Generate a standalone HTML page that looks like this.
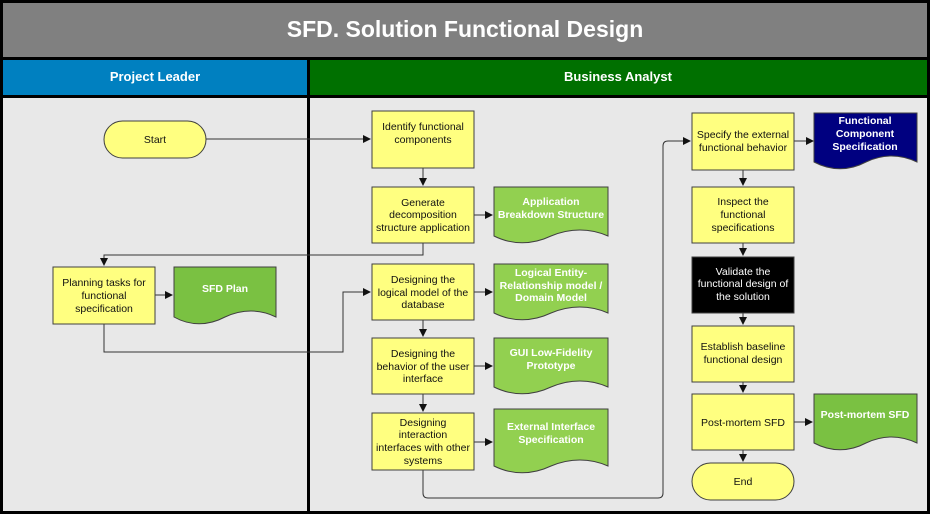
<!DOCTYPE html>
<html><head><meta charset="utf-8"><style>
html,body{margin:0;padding:0;background:#fff}
svg{display:block}
text{font-family:"Liberation Sans",Arial,sans-serif}
.b{fill:#ffff80;stroke:#404040;stroke-width:1}
.t{font-size:10.5px;fill:#111;text-anchor:middle}
.d{font-size:10.5px;fill:#fff;font-weight:bold;text-anchor:middle}
.l{fill:none;stroke:#333;stroke-width:1}
</style></head><body>
<svg width="930" height="514" viewBox="0 0 930 514" xmlns="http://www.w3.org/2000/svg">
<defs>
<marker id="a" markerWidth="8" markerHeight="8" refX="7" refY="4" orient="auto" markerUnits="userSpaceOnUse"><path d="M0,0 L8,4 L0,8 Z" fill="#111"/></marker>
</defs>
<rect x="0" y="0" width="930" height="514" fill="#000"/>
<rect x="3" y="3" width="924" height="54" fill="#808080"/>
<text x="465" y="37" font-size="23" font-weight="bold" fill="#fff" text-anchor="middle">SFD. Solution Functional Design</text>
<rect x="3" y="60" width="304" height="35" fill="#0080c0"/>
<rect x="310" y="60" width="617" height="35" fill="#007000"/>
<text x="155" y="81" font-size="13" font-weight="bold" fill="#fff" text-anchor="middle">Project Leader</text>
<text x="618" y="81" font-size="13" font-weight="bold" fill="#fff" text-anchor="middle">Business Analyst</text>
<rect x="3" y="98" width="304" height="413" fill="#e8e8e8"/>
<rect x="310" y="98" width="617" height="413" fill="#e8e8e8"/>

<path class="l" d="M206,139 H370" marker-end="url(#a)"/>
<path class="l" d="M423,168 V185" marker-end="url(#a)"/>
<path class="l" d="M423,243 V255 H104 V265" marker-end="url(#a)"/>
<path class="l" d="M155,295 H172" marker-end="url(#a)"/>
<path class="l" d="M104,324 V352 H343 V292 H370" marker-end="url(#a)"/>
<path class="l" d="M474,215 H492" marker-end="url(#a)"/>
<path class="l" d="M474,292 H492" marker-end="url(#a)"/>
<path class="l" d="M423,320 V336" marker-end="url(#a)"/>
<path class="l" d="M474,366 H492" marker-end="url(#a)"/>
<path class="l" d="M423,394 V411" marker-end="url(#a)"/>
<path class="l" d="M474,442 H492" marker-end="url(#a)"/>
<path class="l" d="M423,470 V493 Q423,498 428,498 H658 Q663,498 663,493 V146 Q663,141 668,141 H690" marker-end="url(#a)"/>
<path class="l" d="M794,141 H813" marker-end="url(#a)"/>
<path class="l" d="M743,170 V185" marker-end="url(#a)"/>
<path class="l" d="M743,243 V255" marker-end="url(#a)"/>
<path class="l" d="M743,313 V324" marker-end="url(#a)"/>
<path class="l" d="M743,382 V392" marker-end="url(#a)"/>
<path class="l" d="M794,422 H812" marker-end="url(#a)"/>
<path class="l" d="M743,450 V461" marker-end="url(#a)"/>

<rect class="b" x="104" y="121" width="102" height="37" rx="18.5"/>
<text class="t" x="155" y="143">Start</text>
<rect class="b" x="692" y="463" width="102" height="37" rx="18.5"/>
<text class="t" x="743" y="485">End</text>

<rect class="b" x="372" y="111" width="102" height="57"/>
<text class="t" x="423" y="130">Identify functional</text><text class="t" x="423" y="143">components</text>
<rect class="b" x="372" y="187" width="102" height="56"/>
<text class="t" x="423" y="206">Generate</text><text class="t" x="423" y="218">decomposition</text><text class="t" x="423" y="231">structure application</text>
<rect class="b" x="53" y="267" width="102" height="57"/>
<text class="t" x="104" y="286">Planning tasks for</text><text class="t" x="104" y="299">functional</text><text class="t" x="104" y="312">specification</text>
<rect class="b" x="372" y="264" width="102" height="56"/>
<text class="t" x="423" y="283">Designing the</text><text class="t" x="423" y="296">logical model of the</text><text class="t" x="423" y="308">database</text>
<rect class="b" x="372" y="338" width="102" height="56"/>
<text class="t" x="423" y="357">Designing the</text><text class="t" x="423" y="370">behavior of the user</text><text class="t" x="423" y="382">interface</text>
<rect class="b" x="372" y="413" width="102" height="57"/>
<text class="t" x="423" y="426">Designing</text><text class="t" x="423" y="438">interaction</text><text class="t" x="423" y="451">interfaces with other</text><text class="t" x="423" y="464">systems</text>
<rect class="b" x="692" y="113" width="102" height="57"/>
<text class="t" x="743" y="138">Specify the external</text><text class="t" x="743" y="151">functional behavior</text>
<rect class="b" x="692" y="187" width="102" height="56"/>
<text class="t" x="743" y="205">Inspect the</text><text class="t" x="743" y="218">functional</text><text class="t" x="743" y="231">specifications</text>
<rect x="692" y="257" width="102" height="56" fill="#000" stroke="#404040"/>
<text class="t" x="743" y="275" style="fill:#fff">Validate the</text><text class="t" x="743" y="287" style="fill:#fff">functional design of</text><text class="t" x="743" y="300" style="fill:#fff">the solution</text>
<rect class="b" x="692" y="326" width="102" height="56"/>
<text class="t" x="743" y="350">Establish baseline</text><text class="t" x="743" y="363">functional design</text>
<rect class="b" x="692" y="394" width="102" height="56"/>
<text class="t" x="743" y="426">Post-mortem SFD</text>

<path fill="#92d050" stroke="#404040" d="M494,187 H608 V236 C590,228 570,228 551,236 C532,245 512,245 494,236 Z"/>
<text class="d" x="551" y="205">Application</text><text class="d" x="551" y="218">Breakdown Structure</text>
<path fill="#7ac142" stroke="#404040" d="M174,267 H276 V317 C260,309 242,309 225,317 C208,326 190,326 174,317 Z"/>
<text class="d" x="225" y="292">SFD Plan</text>
<path fill="#92d050" stroke="#404040" d="M494,264 H608 V313 C590,305 570,305 551,313 C532,322 512,322 494,313 Z"/>
<text class="d" x="551" y="276">Logical Entity-</text><text class="d" x="551" y="289">Relationship model /</text><text class="d" x="551" y="301">Domain Model</text>
<path fill="#92d050" stroke="#404040" d="M494,338 H608 V387 C590,379 570,379 551,387 C532,396 512,396 494,387 Z"/>
<text class="d" x="551" y="356">GUI Low-Fidelity</text><text class="d" x="551" y="369">Prototype</text>
<path fill="#92d050" stroke="#404040" d="M494,409 H608 V466 C590,458 570,458 551,466 C532,475 512,475 494,466 Z"/>
<text class="d" x="551" y="430">External Interface</text><text class="d" x="551" y="443">Specification</text>
<path fill="#000080" stroke="#404040" d="M814,113 H917 V162 C900,154 883,154 866,162 C849,171 831,171 814,162 Z"/>
<text class="d" x="865" y="124">Functional</text><text class="d" x="865" y="137">Component</text><text class="d" x="865" y="150">Specification</text>
<path fill="#7ac142" stroke="#404040" d="M814,394 H917 V443 C900,435 883,435 866,443 C849,452 831,452 814,443 Z"/>
<text class="d" x="865" y="418">Post-mortem SFD</text>
</svg>
</body></html>
